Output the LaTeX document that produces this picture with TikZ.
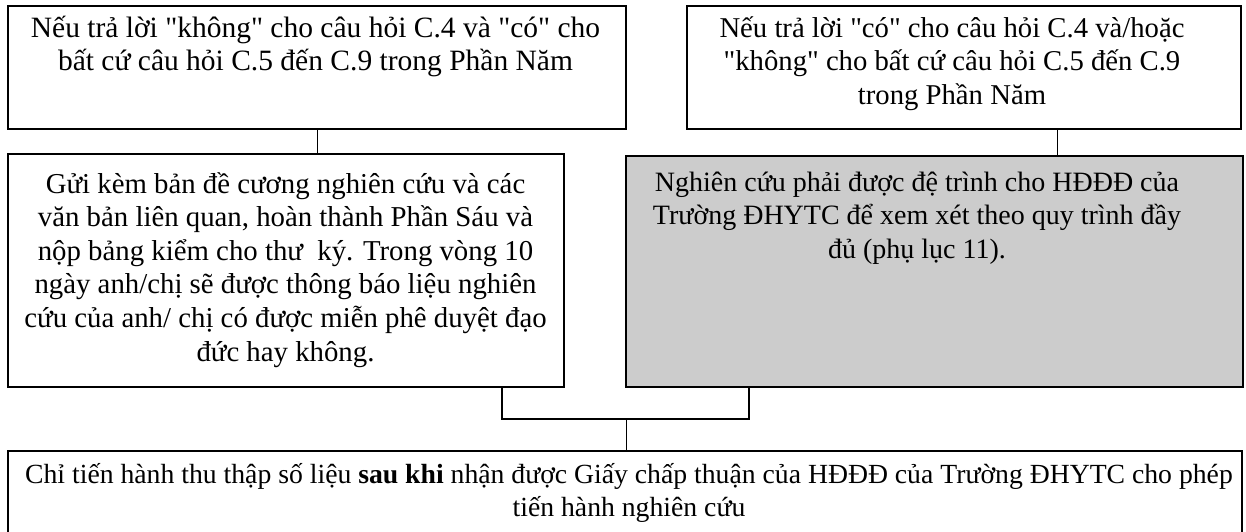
\documentclass[tikz,border=0pt]{standalone}
\usepackage{fontspec}
\setmainfont{Liberation Serif}
\definecolor{boxgray}{RGB}{204,204,204}
\newcommand{\qd}{\textquotedbl}
\begin{document}
\begin{tikzpicture}[x=1pt,y=-1pt,
  boxst/.style={draw=black, line width=1.3pt, inner sep=0pt, outer sep=0pt},
  graybox/.style={boxst, fill=boxgray, line width=2.4pt},
  txt/.style={anchor=base, align=center, inner sep=0pt, outer sep=0pt, font=\fontsize{#1}{33.6}\selectfont},
  txt/.default=28.5,
  thin/.style={line width=0.9pt},
  bracket/.style={line width=1.7pt}]
\clip (0,0) rectangle (1246,531);
\fill[white] (0,0) rectangle (1246,531);
% boxes
\node[boxst, minimum width=618pt, minimum height=123pt] (box1) at (317,67.5) {};
\node[boxst, minimum width=554pt, minimum height=123pt] (box2) at (964,67.5) {};
\node[boxst, minimum width=556pt, minimum height=233pt] (box3) at (286,270.5) {};
\node[graybox, minimum width=617pt, minimum height=231pt] (box4) at (934.5,271.5) {};
\node[boxst, minimum width=1234pt, minimum height=94pt] (box5) at (625,498) {};
% texts (anchored at the baseline of the last line)
\node[txt=29.5] (t1) at (315.5,70.6) {Nếu trả lời \qd không\qd{} cho câu hỏi C.4 và \qd có\qd{} cho\\bất cứ câu hỏi C.5 đến C.9 trong Phần Năm};
\node[txt=28.7] (t2) at (952,104.2) {Nếu trả lời \qd có\qd{} cho câu hỏi C.4 và/hoặc\\\qd không\qd{} cho bất cứ câu hỏi C.5 đến C.9\\trong Phần Năm};
\node[txt=28.8] (t3) at (285.5,361) {Gửi kèm bản đề cương nghiên cứu và các\\văn bản liên quan, hoàn thành Phần Sáu và\\nộp bảng kiểm cho thư\ \ ký. Trong vòng 10\\ngày anh/chị sẽ được thông báo liệu nghiên\\cứu của anh/ chị có được miễn phê duyệt đạo\\đức hay không.};
\node[txt=28] (t4) at (917,258.2) {Nghiên cứu phải được đệ trình cho HĐĐĐ của\\Trường ĐHYTC để xem xét theo quy trình đầy\\đủ (phụ lục 11).};
\node[txt=27.7] (t5) at (629,516.6) {Chỉ tiến hành thu thập số liệu \textbf{sau khi} nhận được Giấy chấp thuận của HĐĐĐ của Trường ĐHYTC cho phép\\tiến hành nghiên cứu};
% connectors
\coordinate (k2) at (1057,0);
\coordinate (bl) at (502,419);
\coordinate (br) at (749,419);
\coordinate (bm) at (626,419);
\draw[thin] (box1.south) -- (box3.north -| box1.south);
\draw[thin] (box2.south -| k2) -- (box4.north -| k2);
\draw[bracket] (box3.south -| bl) -- (bl) -- (br) -- (box4.south -| br);
\draw[thin] (bm) -- (box5.north -| bm);
\end{tikzpicture}
\end{document}
